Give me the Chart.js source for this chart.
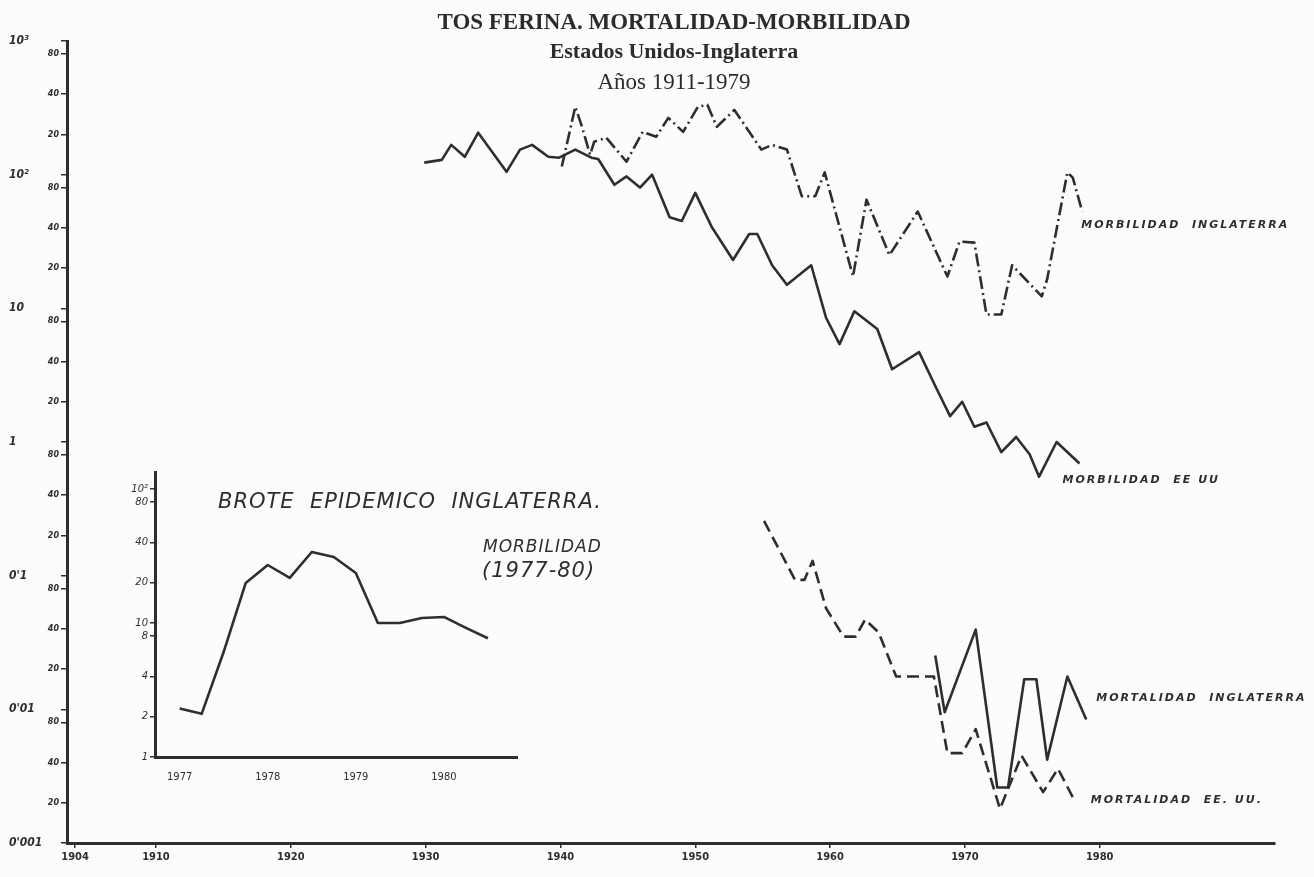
<!DOCTYPE html>
<html>
<head>
<meta charset="utf-8">
<title>Tos ferina. Mortalidad-Morbilidad</title>
<script src="https://cdn.jsdelivr.net/npm/chart.js@4.4.1/dist/chart.umd.min.js"></script>
<style>
  html, body { margin: 0; padding: 0; background: #fcfcfa; }
  #wrap { position: relative; width: 1314px; height: 877px; overflow: hidden; }
  #main { position: absolute; left: 0; top: 0; }
  #inset { position: absolute; left: 100px; top: 460px; }
  .ttl { position: absolute; left: 674px; transform: translate(-50%, -50%); white-space: nowrap;
         font-family: "Liberation Serif", "Times New Roman", serif; color: #2c2c2c; line-height: 1; }
</style>
</head>
<body>
<div id="wrap">
  <canvas id="main" width="1314" height="877"></canvas>
  <canvas id="inset" width="560" height="330"></canvas>
  <div class="ttl" style="top:21px; font-size:23px; font-weight:bold;">TOS FERINA. MORTALIDAD-MORBILIDAD</div>
  <div class="ttl" style="top:51px; font-size:22px; font-weight:bold;">Estados Unidos-Inglaterra</div>
  <div class="ttl" style="top:81px; font-size:23px;">Años 1911-1979</div>
</div>
<script>
// --- data (rates, log scale) ---
var usMorbYears = [1929.9, 1931.2, 1931.9, 1932.9, 1933.9, 1936.0, 1937.0, 1937.9, 1939.1, 1939.9,
    1941.1, 1942.3, 1942.8, 1944.0, 1944.9, 1945.9, 1946.8, 1948.1, 1949.0, 1950.0,
    1951.2, 1952.8, 1954.0, 1954.6, 1955.7, 1956.8, 1958.6, 1959.7, 1960.7, 1961.8,
    1963.5, 1964.6, 1966.6, 1967.9, 1968.9, 1969.8, 1970.7, 1971.6, 1972.7, 1973.8,
    1974.8, 1975.5, 1976.8, 1978.5];
var usMorbValues = [123, 129, 167, 136, 206, 105, 154, 167, 136, 134,
    154, 134, 131, 84, 97, 80, 100, 48, 45, 73,
    41, 23, 36, 36, 21, 15, 21, 8.5, 5.4, 9.5,
    7.0, 3.5, 4.7, 2.5, 1.56, 2.0, 1.3, 1.4, 0.84, 1.09,
    0.81, 0.55, 1.0, 0.69];

var ukMorbYears = [1940.1, 1941.1, 1941.6, 1942.2, 1942.5, 1943.4, 1944.9, 1946.1, 1947.1, 1948.0,
    1949.1, 1950.2, 1950.9, 1951.6, 1952.9, 1954.9, 1955.7, 1956.8, 1957.9, 1958.9,
    1959.6, 1961.7, 1962.7, 1964.4, 1966.5, 1968.7, 1969.6, 1970.7, 1971.6, 1972.7,
    1973.5, 1975.7, 1976.1, 1977.6, 1978.0, 1978.7];
var ukMorbValues = [115, 322, 228, 141, 176, 189, 125, 209, 192, 266,
    209, 322, 333, 228, 305, 154, 167, 154, 69, 69,
    104, 17.3, 65, 25, 53, 17.3, 31.6, 31, 9.0, 9.0,
    21, 12.3, 16.5, 104, 95, 53];

var usMortYears = [1955.1, 1957.4, 1958.1, 1958.7, 1959.7, 1961.0, 1961.9, 1962.6, 1963.6, 1964.9,
    1967.7, 1968.7, 1969.8, 1970.8, 1972.6, 1974.2, 1975.8, 1976.9, 1978.0];
var usMortValues = [0.257, 0.093, 0.093, 0.129, 0.057, 0.035, 0.035, 0.047, 0.0376, 0.0176,
    0.0176, 0.0047, 0.0047, 0.0071, 0.0018, 0.0045, 0.0024, 0.0036, 0.0022];

var ukMortYears = [1967.8, 1968.5, 1970.8, 1972.4, 1973.2, 1974.4, 1975.3, 1976.1, 1977.6, 1979.0];
var ukMortValues = [0.0253, 0.0095, 0.0395, 0.0026, 0.0026, 0.0168, 0.0168, 0.0042, 0.0176, 0.0084];

// inset: outbreak in England, quarterly 1977-80
var insetQuarters = [1977.0, 1977.25, 1977.5, 1977.75, 1978.0, 1978.25, 1978.5, 1978.75,
    1979.0, 1979.25, 1979.5, 1979.75, 1980.0, 1980.25, 1980.5];
var insetValues = [2.3, 2.1, 6.1, 19.9, 27.1, 21.7, 33.9, 31.1, 23.6, 10.0, 10.0, 10.9, 11.1, 9.2, 7.7];

// tick labels
var xTickYears = [1904, 1910, 1920, 1930, 1940, 1950, 1960, 1970, 1980];
var yMajorValues = [0.001, 0.01, 0.1, 1, 10, 100, 1000];
var yMajorLabels = ["0'001", "0'01", "0'1", "1", "10", "10²", "10³"];
var yMinorValues = [0.002, 0.004, 0.008, 0.02, 0.04, 0.08, 0.2, 0.4, 0.8,
    2, 4, 8, 20, 40, 80, 200, 400, 800];
var yMinorLabels = ['20', '40', '80', '20', '40', '80', '20', '40', '80',
    '20', '40', '80', '20', '40', '80', '20', '40', '80'];
var insetXTicks = [1977, 1978, 1979, 1980];
var insetYValues = [1, 2, 4, 8, 10, 20, 40, 80, 100];
var insetYLabels = ['1', '2', '4', '8', '10', '20', '40', '80', '10²'];

var ink = '#2e2e2e';
var hand = '"DejaVu Sans", "Liberation Sans", sans-serif';

function pts(xs, ys) {
    return xs.map(function (x, i) { return {x: x, y: ys[i]}; });
}

// inner y axis: all tick marks, minor labels only
var yInnerTicks = yMajorValues.concat(yMinorValues).sort(function (a, b) { return a - b; });
function innerLabel(v) {
    var i = yMinorValues.findIndex(function (m) { return Math.abs(m - v) / m < 1e-6; });
    return i < 0 ? '' : yMinorLabels[i];
}
function majorLabel(v) {
    var i = yMajorValues.findIndex(function (m) { return Math.abs(m - v) / m < 1e-6; });
    return i < 0 ? '' : yMajorLabels[i];
}

// series names written at the end of each line
var notesPlugin = {
    id: 'notes',
    afterDatasetsDraw: function (chart) {
        var ctx = chart.ctx, xs = chart.scales.x, ys = chart.scales.y;
        ctx.save();
        ctx.fillStyle = ink;
        ctx.font = 'italic bold 11px ' + hand;
        ctx.letterSpacing = '2px';
        ctx.textBaseline = 'middle';
        chart.data.datasets.forEach(function (ds) {
            var last = ds.data[ds.data.length - 1];
            ctx.fillText(ds.label, xs.getPixelForValue(last.x) + ds.noteOffset[0],
                ys.getPixelForValue(last.y) + ds.noteOffset[1]);
        });
        ctx.restore();
    }
};

var lineBase = {
    borderColor: ink, borderWidth: 2.6, pointRadius: 0, tension: 0,
    borderJoinStyle: 'round', fill: false
};

new Chart(document.getElementById('main'), {
    type: 'line',
    data: {
        datasets: [
            Object.assign({label: 'MORBILIDAD  INGLATERRA', data: pts(ukMorbYears, ukMorbValues),
                borderDash: [13, 4, 2, 4], noteOffset: [-1, 14]}, lineBase),
            Object.assign({label: 'MORBILIDAD  EE UU', data: pts(usMorbYears, usMorbValues),
                noteOffset: [-17, 17]}, lineBase),
            Object.assign({label: 'MORTALIDAD  EE. UU.', data: pts(usMortYears, usMortValues),
                borderDash: [12, 6], noteOffset: [18, 3]}, lineBase),
            Object.assign({label: 'MORTALIDAD  INGLATERRA', data: pts(ukMortYears, ukMortValues),
                noteOffset: [10, -21]}, lineBase)
        ]
    },
    options: {
        responsive: false,
        animation: false,
        devicePixelRatio: 1,
        layout: {padding: {top: 41, right: 39, bottom: 0, left: 9}},
        plugins: {legend: {display: false}, tooltip: {enabled: false}},
        scales: {
            x: {
                type: 'linear', min: 1903.4, max: 1993,
                afterBuildTicks: function (s) { s.ticks = xTickYears.map(function (v) { return {value: v}; }); },
                afterFit: function (s) { s.height = 34; },
                ticks: {
                    autoSkip: false, maxRotation: 0, padding: 3, color: ink,
                    font: {family: '"DejaVu Sans Condensed", ' + hand, size: 11, weight: 'bold'},
                    callback: function (v) { return String(v); }
                },
                grid: {drawOnChartArea: false, tickLength: 5, color: ink, lineWidth: 1.5},
                border: {color: ink, width: 3}
            },
            y: {
                type: 'logarithmic', position: 'left', weight: 0, min: 0.001, max: 1000,
                afterBuildTicks: function (s) { s.ticks = yInnerTicks.map(function (v) { return {value: v}; }); },
                afterFit: function (s) { s.width = 22; },
                ticks: {
                    autoSkip: false, padding: 2, color: ink,
                    font: {family: hand, size: 8, weight: 'bold', style: 'italic'},
                    callback: function (v) { return innerLabel(v); }
                },
                grid: {drawOnChartArea: false, tickLength: 6, color: ink, lineWidth: 1.5},
                border: {color: ink, width: 3}
            },
            yMaj: {
                type: 'logarithmic', position: 'left', weight: 1, min: 0.001, max: 1000,
                afterBuildTicks: function (s) { s.ticks = yMajorValues.map(function (v) { return {value: v}; }); },
                afterFit: function (s) { s.width = 36; },
                ticks: {
                    autoSkip: false, padding: 0, color: ink, crossAlign: 'far',
                    font: {family: '"DejaVu Sans Condensed", ' + hand, size: 12, weight: 'bold', style: 'italic'},
                    callback: function (v) { return majorLabel(v); }
                },
                grid: {display: false},
                border: {display: false}
            }
        }
    },
    plugins: [notesPlugin]
});

// inset heading, hand lettered
var insetTitlePlugin = {
    id: 'insetTitle',
    afterDraw: function (chart) {
        var ctx = chart.ctx, a = chart.chartArea;
        ctx.save();
        ctx.fillStyle = ink;
        ctx.textBaseline = 'middle';
        ctx.font = 'italic 21px ' + hand;
        ctx.letterSpacing = '1px';
        ctx.fillText('BROTE  EPIDEMICO  INGLATERRA.', a.left + 63, a.top + 31);
        ctx.font = 'italic 17px ' + hand;
        ctx.fillText('MORBILIDAD', a.left + 328, a.top + 76);
        ctx.font = 'italic 21px ' + hand;
        ctx.fillText('(1977-80)', a.left + 327, a.top + 100);
        ctx.restore();
    }
};

new Chart(document.getElementById('inset'), {
    type: 'line',
    data: {
        datasets: [Object.assign({label: 'Brote epidémico Inglaterra', data: pts(insetQuarters, insetValues)}, lineBase)]
    },
    options: {
        responsive: false,
        animation: false,
        devicePixelRatio: 1,
        layout: {padding: {top: 12, right: 143, bottom: 0, left: 0}},
        plugins: {legend: {display: false}, tooltip: {enabled: false}},
        scales: {
            x: {
                type: 'linear', min: 1976.72, max: 1980.83,
                afterBuildTicks: function (s) { s.ticks = insetXTicks.map(function (v) { return {value: v}; }); },
                afterFit: function (s) { s.height = 33; },
                ticks: {
                    autoSkip: false, maxRotation: 0, padding: 6, color: ink,
                    font: {family: '"DejaVu Sans Condensed", ' + hand, size: 11},
                    callback: function (v) { return String(v); }
                },
                grid: {display: false},
                border: {color: ink, width: 3}
            },
            y: {
                type: 'logarithmic', min: 1, max: 134,
                afterBuildTicks: function (s) { s.ticks = insetYValues.map(function (v) { return {value: v}; }); },
                afterFit: function (s) { s.width = 55; },
                ticks: {
                    autoSkip: false, padding: 2, color: ink,
                    font: {family: hand, size: 10, style: 'italic'},
                    callback: function (v) {
                        var i = insetYValues.indexOf(v);
                        return i < 0 ? '' : insetYLabels[i];
                    }
                },
                grid: {drawOnChartArea: false, tickLength: 5, color: ink, lineWidth: 1.5},
                border: {color: ink, width: 3}
            }
        }
    },
    plugins: [insetTitlePlugin]
});
</script>
</body>
</html>
